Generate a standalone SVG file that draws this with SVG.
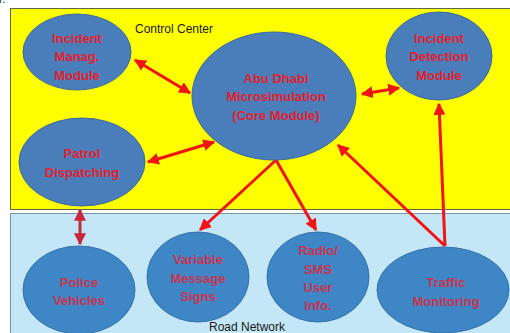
<svg xmlns="http://www.w3.org/2000/svg" width="510" height="333" viewBox="0 0 510 333">
<defs>
<style>
.node{fill:#4a7ebb;stroke:#3a6a9e;stroke-width:1}
.nodeb{fill:#3e86c5;stroke:#3572a8;stroke-width:1}
.lbl{font-family:"Liberation Sans",Arial,sans-serif;font-weight:bold;font-size:13px;fill:#e3202c;text-anchor:middle}
.lblb{font-family:"Liberation Sans",Arial,sans-serif;font-weight:bold;font-size:13px;fill:#c9334f;text-anchor:middle}
.area{font-family:"Liberation Sans",Arial,sans-serif;font-size:12px;fill:#1a1a1a}
.c{fill:none;stroke:#f01414;stroke-width:3}
.cb{fill:none;stroke:#c8283c;stroke-width:3}
</style>
<marker id="ah" viewBox="0 0 10 10" refX="9" refY="5" markerWidth="4" markerHeight="4" orient="auto-start-reverse" markerUnits="strokeWidth"><path d="M0,0L10,5L0,10z" fill="#f01414"/></marker>
<marker id="ahb" viewBox="0 0 10 10" refX="9" refY="5" markerWidth="4" markerHeight="4" orient="auto-start-reverse" markerUnits="strokeWidth"><path d="M0,0L10,5L0,10z" fill="#c8283c"/></marker>
</defs>
<rect width="510" height="333" fill="#ffffff"/>
<text x="-1" y="3" font-family="Liberation Sans,sans-serif" font-size="12" fill="#333">r.</text>
<rect id="control-center" x="10.5" y="8.5" width="505" height="201" fill="#ffff00" stroke="#5a6a4a" stroke-width="1"/>
<rect id="road-network" x="10.5" y="213.5" width="505" height="125" fill="#c4e7f7" stroke="#7f93a8" stroke-width="1"/>
<text class="area" x="135" y="33">Control Center</text>
<text class="area" x="209" y="331">Road Network</text>

<g id="connectors">
<line class="c" x1="135" y1="60" x2="190" y2="93" marker-start="url(#ah)" marker-end="url(#ah)"/>
<line class="c" x1="148" y1="162" x2="214" y2="142" marker-start="url(#ah)" marker-end="url(#ah)"/>
<line class="c" x1="362" y1="94" x2="399" y2="88" marker-start="url(#ah)" marker-end="url(#ah)"/>
<line class="c" x1="276" y1="160" x2="200" y2="230" marker-end="url(#ah)"/>
<line class="c" x1="276" y1="160" x2="316" y2="230" marker-end="url(#ah)"/>
<line class="c" x1="445" y1="246" x2="338" y2="145" marker-end="url(#ah)"/>
<line class="c" x1="445" y1="246" x2="439" y2="104" marker-end="url(#ah)"/>
<line class="cb" x1="80" y1="210" x2="80" y2="244" marker-start="url(#ahb)" marker-end="url(#ahb)"/>
</g>

<g id="incident-manag-module">
<ellipse class="node" cx="77" cy="52" rx="54" ry="38"/>
<text class="lbl" x="77" y="43">Incident</text>
<text class="lbl" x="77" y="61">Manag.</text>
<text class="lbl" x="77" y="80">Module</text>
</g>
<g id="patrol-dispatching">
<ellipse class="node" cx="82" cy="162" rx="63" ry="44"/>
<text class="lbl" x="82" y="158">Patrol</text>
<text class="lbl" x="82" y="177">Dispatching</text>
</g>
<g id="core-module">
<ellipse class="node" cx="274" cy="96" rx="82" ry="64"/>
<text class="lbl" x="276" y="83">Abu Dhabi</text>
<text class="lbl" x="276" y="101">Microsimulation</text>
<text class="lbl" x="276" y="120">(Core Module)</text>
</g>
<g id="incident-detection-module">
<ellipse class="node" cx="439" cy="56" rx="53" ry="44"/>
<text class="lbl" x="439" y="43">Incident</text>
<text class="lbl" x="439" y="61">Detection</text>
<text class="lbl" x="439" y="80">Module</text>
</g>
<g id="police-vehicles">
<ellipse class="nodeb" cx="79" cy="290" rx="56" ry="44"/>
<text class="lblb" x="79" y="287">Police</text>
<text class="lblb" x="79" y="305">Vehicles</text>
</g>
<g id="variable-message-signs">
<ellipse class="nodeb" cx="198" cy="277" rx="51" ry="45"/>
<text class="lblb" x="198" y="264">Variable</text>
<text class="lblb" x="198" y="283">Message</text>
<text class="lblb" x="198" y="301">Signs</text>
</g>
<g id="radio-sms-user-info">
<ellipse class="nodeb" cx="318" cy="277" rx="51" ry="45"/>
<text class="lblb" x="318" y="255">Radio/</text>
<text class="lblb" x="318" y="274">SMS</text>
<text class="lblb" x="318" y="292">User</text>
<text class="lblb" x="318" y="310">Info.</text>
</g>
<g id="traffic-monitoring">
<ellipse class="nodeb" cx="443" cy="290" rx="66" ry="43"/>
<text class="lblb" x="446" y="287">Traffic</text>
<text class="lblb" x="446" y="306">Monitoring</text>
</g>
</svg>
